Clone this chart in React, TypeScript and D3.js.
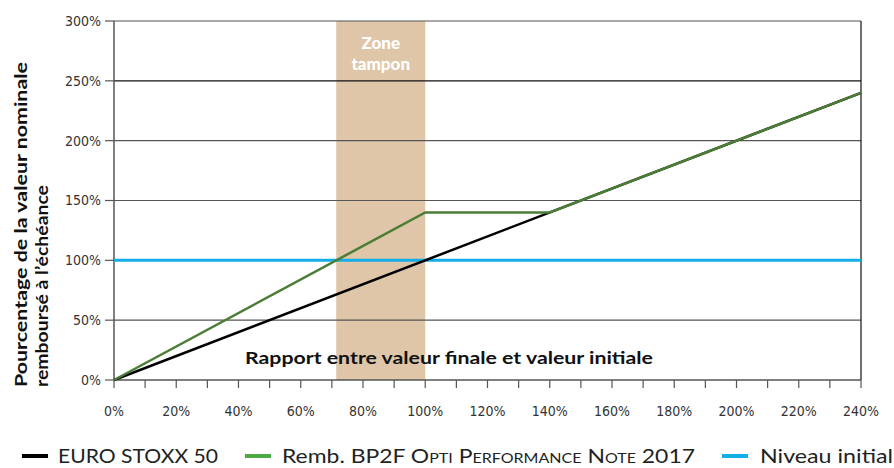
import React, { useEffect, useRef } from 'react';
import * as d3 from 'd3';

// x = ratio final/initial (%), y = percentage repaid (%)
const euroStoxx: [number, number][] = [[0, 0], [240, 240]];
const remb: [number, number][] = [[0, 0], [100, 140], [140, 140], [240, 240]];
const niveauInitial: [number, number][] = [[0, 100], [240, 100]];
const zoneTampon: [number, number] = [71.4, 100];
const yTicks = [0, 50, 100, 150, 200, 250, 300];
const xLabels = [0, 20, 40, 60, 80, 100, 120, 140, 160, 180, 200, 220, 240];
const xMinorTicks = d3.range(0, 241, 10);

const FONT = '"Liberation Sans Narrow", "DejaVu Sans Condensed", "Roboto", sans-serif';
const BOLD = 'Lato, "Open Sans", sans-serif';
const LEG = 'Lato, "Open Sans", sans-serif';

const App: React.FC = () => {
    const svgRef = useRef<SVGSVGElement>(null);

    useEffect(() => {
        if (!svgRef.current) return;
        const svg = d3.select(svgRef.current);
        svg.selectAll('*').remove();

        const left = 114, right = 861, top = 21, bottom = 380;
        const x = d3.scaleLinear().domain([0, 240]).range([left, right]);
        const y = d3.scaleLinear().domain([0, 300]).range([bottom, top]);

        // buffer zone
        svg.append('rect')
            .attr('x', x(zoneTampon[0]))
            .attr('y', y(300))
            .attr('width', x(zoneTampon[1]) - x(zoneTampon[0]))
            .attr('height', y(0) - y(300))
            .attr('fill', '#dfc6a8');

        // gridlines
        yTicks.forEach(t => {
            if (t === 0) return;
            svg.append('line')
                .attr('x1', left).attr('x2', right)
                .attr('y1', y(t)).attr('y2', y(t))
                .attr('stroke', t === 250 ? '#111' : '#555')
                .attr('stroke-width', 1.2);
        });

        // right frame
        svg.append('line')
            .attr('x1', right).attr('x2', right)
            .attr('y1', top).attr('y2', bottom)
            .attr('stroke', '#111').attr('stroke-width', 1.2);

        // y ticks + labels
        yTicks.forEach(t => {
            svg.append('line')
                .attr('x1', left - 9).attr('x2', left)
                .attr('y1', y(t)).attr('y2', y(t))
                .attr('stroke', '#555').attr('stroke-width', 1.2);
            svg.append('text')
                .attr('x', left - 13)
                .attr('y', y(t))
                .attr('dy', '0.35em')
                .attr('text-anchor', 'end')
                .attr('font-family', FONT)
                .attr('font-size', 14)
                .attr('fill', '#333')
                .text(`${t}%`);
        });

        // x ticks
        xMinorTicks.forEach(t => {
            svg.append('line')
                .attr('x1', x(t)).attr('x2', x(t))
                .attr('y1', bottom).attr('y2', bottom + 8)
                .attr('stroke', '#555').attr('stroke-width', 1.2);
        });
        xLabels.forEach(t => {
            svg.append('text')
                .attr('x', x(t))
                .attr('y', 416)
                .attr('text-anchor', 'middle')
                .attr('font-family', FONT)
                .attr('font-size', 14)
                .attr('fill', '#333')
                .text(`${t}%`);
        });

        // axes lines
        svg.append('line')
            .attr('x1', left).attr('x2', left)
            .attr('y1', top).attr('y2', bottom)
            .attr('stroke', '#555').attr('stroke-width', 1.5);
        svg.append('line')
            .attr('x1', left).attr('x2', right)
            .attr('y1', bottom).attr('y2', bottom)
            .attr('stroke', '#555').attr('stroke-width', 1.5);

        const line = d3.line<[number, number]>()
            .x(d => x(d[0]))
            .y(d => y(d[1]));

        svg.append('path').datum(niveauInitial).attr('d', line)
            .attr('fill', 'none').attr('stroke', '#13aee8').attr('stroke-width', 3);
        svg.append('path').datum(euroStoxx).attr('d', line)
            .attr('fill', 'none').attr('stroke', '#000').attr('stroke-width', 2.5);
        svg.append('path').datum(remb).attr('d', line)
            .attr('fill', 'none').attr('stroke', '#4b7d36').attr('stroke-width', 2.5);

        // zone label
        const zx = (x(zoneTampon[0]) + x(zoneTampon[1])) / 2;
        ['Zone', 'tampon'].forEach((s, i) => {
            svg.append('text')
                .attr('x', zx).attr('y', 49 + i * 21)
                .attr('text-anchor', 'middle')
                .attr('font-family', BOLD)
                .attr('font-weight', 900)
                .attr('font-size', 17)
                .attr('fill', '#fff')
                .text(s);
        });

        // x axis title
        svg.append('text')
            .attr('x', 449).attr('y', 364)
            .attr('text-anchor', 'middle')
            .attr('font-family', BOLD)
            .attr('font-weight', 'bold')
            .attr('font-size', 17)
            .attr('fill', '#111')
            .attr('textLength', 408)
            .attr('lengthAdjust', 'spacingAndGlyphs')
            .text('Rapport entre valeur finale et valeur initiale');

        // y axis title
        const yTitle = [
            { s: 'Pourcentage de la valeur nominale', len: 325 },
            { s: 'remboursé à l\u2019échéance', len: 202 },
        ];
        yTitle.forEach((d, i) => {
            svg.append('text')
                .attr('transform', `translate(${27 + i * 21},387) rotate(-90)`)
                .attr('text-anchor', 'start')
                .attr('font-family', BOLD)
                .attr('font-weight', 'bold')
                .attr('font-size', 17)
                .attr('fill', '#111')
                .attr('textLength', d.len)
                .attr('lengthAdjust', 'spacingAndGlyphs')
                .text(d.s);
        });

        // legend
        const legendY = 456;
        const items = [
            { x: 22, color: '#000' },
            { x: 245, color: '#4ea843' },
            { x: 722, color: '#13aee8' },
        ];
        items.forEach(it => {
            svg.append('line')
                .attr('x1', it.x).attr('x2', it.x + 26)
                .attr('y1', legendY).attr('y2', legendY)
                .attr('stroke', it.color).attr('stroke-width', 4);
        });
        const lt = (xPos: number, len: number) => svg.append('text')
            .attr('x', xPos).attr('y', legendY + 7)
            .attr('font-family', LEG)
            .attr('font-weight', 400)
            .attr('font-size', 20)
            .attr('fill', '#222')
            .attr('textLength', len)
            .attr('lengthAdjust', 'spacingAndGlyphs');
        lt(58, 160).text('EURO STOXX 50');
        const t2 = lt(282, 413);
        t2.append('tspan').text('Remb. BP2F ');
        t2.append('tspan').attr('font-variant', 'small-caps').text('Opti Performance Note');
        t2.append('tspan').text(' 2017');
        lt(760, 133).text('Niveau initial');
    }, []);

    return (
        <svg ref={svgRef} width={894} height={468}
            style={{ position: 'absolute', left: 0, top: 0, background: '#fff' }} />
    );
};

export default App;
